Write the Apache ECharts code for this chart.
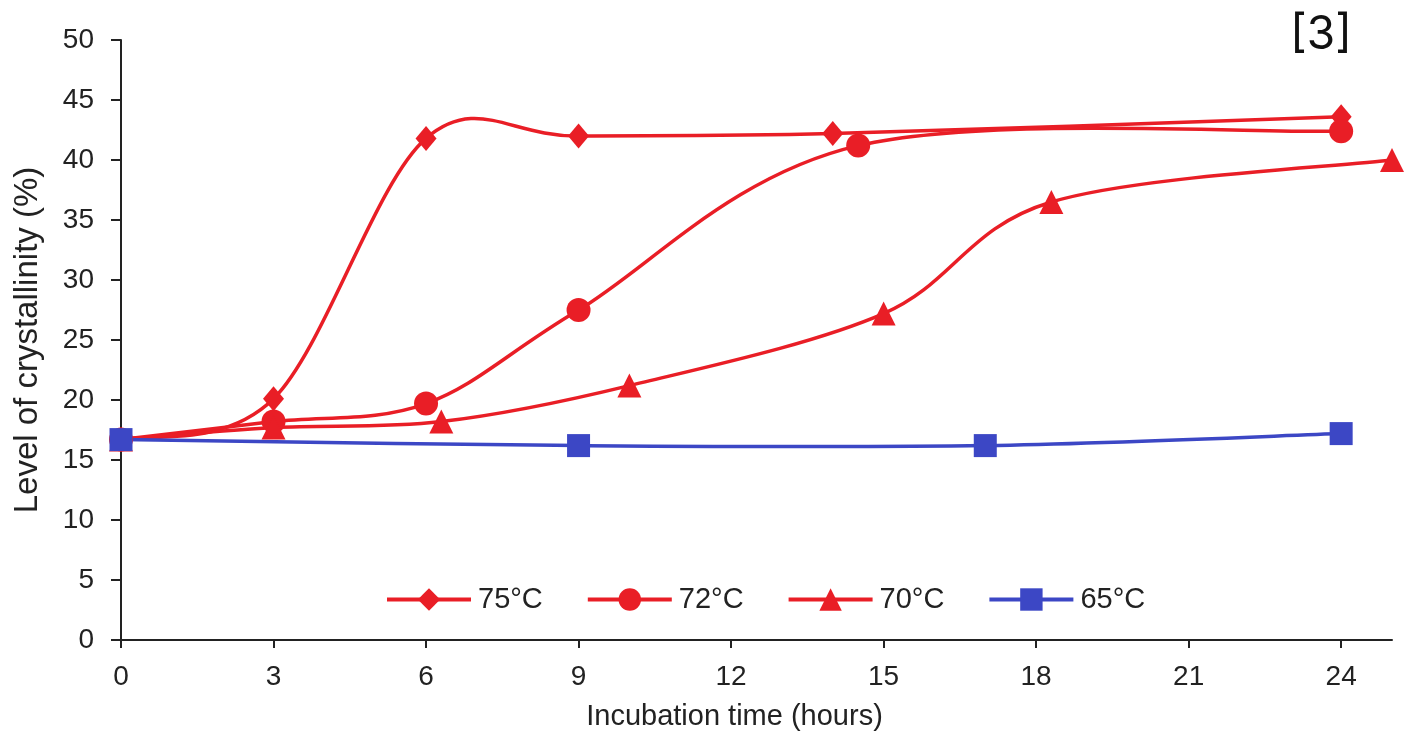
<!DOCTYPE html>
<html>
<head>
<meta charset="utf-8">
<script src="https://cdn.jsdelivr.net/npm/echarts@6/dist/echarts.min.js"></script>
<style>html,body{margin:0;padding:0;background:#fff;}#c{width:1411px;height:731px;}</style>
</head>
<body>
<div id="c"></div>
<script>
const seriesNames = ['75°C', '72°C', '70°C', '65°C'];
const s75 = [[0, 16.7], [3, 20.1], [6, 41.8], [9, 42.0], [14, 42.2], [24, 43.6]];
const s72 = [[0, 16.7], [3, 18.2], [6, 19.7], [9, 27.5], [14.5, 41.2], [24, 42.4]];
const s70 = [[0, 16.7], [3, 17.7], [6.3, 18.2], [10, 21.2], [15, 27.2], [18.3, 36.5], [25, 40.0]];
const s65 = [[0, 16.7], [9, 16.2], [17, 16.2], [24, 17.2]];
const xTicks = [0, 3, 6, 9, 12, 15, 18, 21, 24];
const yTicks = [0, 5, 10, 15, 20, 25, 30, 35, 40, 45, 50];

const RED = '#e91e26';
const BLUE = '#3c47c5';
const FONT = '"Liberation Sans", Arial, sans-serif';
const LW = 3.5;

// Excel-like Catmull-Rom smoothed curve, computed from data through the axes
function curve(data, color) {
  return {
    type: 'custom', name: '_c', coordinateSystem: 'cartesian2d',
    data: [data[0]], silent: true, z: 1, clip: false,
    renderItem: function (params, api) {
      const p = data.map(function (d) { return api.coord(d); });
      const n = p.length, children = [];
      for (let i = 0; i < n - 1; i++) {
        const p0 = p[Math.max(i - 1, 0)], p1 = p[i], p2 = p[i + 1], p3 = p[Math.min(i + 2, n - 1)];
        children.push({
          type: 'bezierCurve',
          shape: {
            x1: p1[0], y1: p1[1], x2: p2[0], y2: p2[1],
            cpx1: p1[0] + (p2[0] - p0[0]) / 6, cpy1: p1[1] + (p2[1] - p0[1]) / 6,
            cpx2: p2[0] - (p3[0] - p1[0]) / 6, cpy2: p2[1] - (p3[1] - p1[1]) / 6
          },
          style: { stroke: color, lineWidth: LW, fill: null, lineCap: 'round' }
        });
      }
      return { type: 'group', children: children };
    }
  };
}

function mk(name, data, symbol, color, size) {
  return {
    name: name, type: 'line', data: data, smooth: false,
    symbol: symbol, symbolSize: size,
    lineStyle: { color: color, width: LW, opacity: 0 },
    itemStyle: { color: color },
    emphasis: { disabled: true },
    z: 3
  };
}

const chart = echarts.init(document.getElementById('c'), null, { renderer: 'canvas' });
chart.setOption({
  animation: false,
  backgroundColor: '#ffffff',
  grid: { left: 121, right: 19, top: 40, bottom: 91, containLabel: false, outerBoundsMode: 'none' },
  legend: {
    data: seriesNames,
    left: 380, top: 580,
    itemWidth: 84, itemHeight: 28, itemGap: 43,
    lineStyle: { opacity: 1, width: 4 },
    textStyle: { fontFamily: FONT, fontSize: 29, color: '#222', padding: [0, 0, 0, 2] }
  },
  xAxis: {
    type: 'value', min: 0, max: 25, interval: 3,
    name: 'Incubation time (hours)', nameLocation: 'middle', nameGap: 62,
    nameTextStyle: { fontFamily: FONT, fontSize: 29, color: '#222', padding: [0, 44, 0, 0] },
    axisLine: { lineStyle: { color: '#222', width: 2 } },
    axisTick: { show: true, length: 8, lineStyle: { color: '#222', width: 2 }, customValues: xTicks },
    axisLabel: { fontFamily: FONT, fontSize: 28, color: '#222', margin: 23, customValues: xTicks },
    splitLine: { show: false }
  },
  yAxis: {
    type: 'value', min: 0, max: 50, interval: 5,
    name: 'Level of crystallinity (%)', nameLocation: 'middle', nameGap: 77, nameRotate: 90,
    nameTextStyle: { fontFamily: FONT, fontSize: 33, color: '#222' },
    axisLine: { show: true, lineStyle: { color: '#222', width: 2 } },
    axisTick: { show: true, length: 10, lineStyle: { color: '#222', width: 2 }, customValues: yTicks },
    axisLabel: { fontFamily: FONT, fontSize: 28, color: '#222', margin: 27, customValues: yTicks },
    splitLine: { show: false }
  },
  graphic: [{
    type: 'text', right: 59, top: 12,
    style: { text: '[3]', fontFamily: '"Inter", "Liberation Sans", sans-serif', fontSize: 46, fill: '#111' }
  }],
  series: [
    curve(s75, RED), curve(s72, RED), curve(s70, RED), curve(s65, BLUE),
    mk(seriesNames[0], s75, 'diamond', RED, [21, 25]),
    mk(seriesNames[1], s72, 'circle', RED, 24),
    mk(seriesNames[2], s70, 'triangle', RED, 24),
    mk(seriesNames[3], s65, 'rect', BLUE, 23)
  ]
});
</script>
</body>
</html>
